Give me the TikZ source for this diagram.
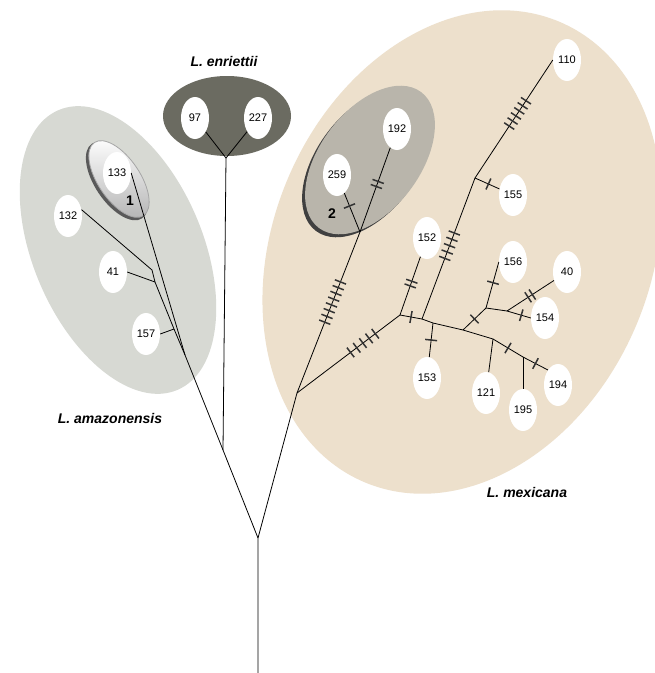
\documentclass[tikz,border=0pt]{standalone}
\usepackage{fontspec}
\setmainfont{Liberation Sans}
\usetikzlibrary{shapes.geometric,decorations.markings}
\definecolor{amazc}{HTML}{D7D9D3}
\definecolor{enric}{HTML}{6B6B61}
\definecolor{mexic}{HTML}{EDE0CC}
\definecolor{grpc}{HTML}{B9B5AB}
\definecolor{tickc}{HTML}{333333}
\begin{document}
\begin{tikzpicture}[x=1pt,y=-1pt,
  hap/.style={shape=ellipse, fill=white, minimum width=28pt, minimum height=42pt, inner sep=0pt, font=\fontsize{11}{13}\selectfont},
  edge/.style={draw=black, line width=0.8pt},
  tk/.style={draw=tickc, line width=1.5pt},
  ticks/.style n args={3}{postaction={decorate, decoration={markings, mark=between positions #1 and #3 step #2 with {\draw[tk] (0pt,-6pt) -- (0pt,6pt);}}}},
  tickone/.style={postaction={decorate, decoration={markings, mark=at position #1 with {\draw[tk] (0pt,-6pt) -- (0pt,6pt);}}}},
  species/.style={font=\fontsize{14}{16}\selectfont\bfseries\itshape},
  grplabel/.style={font=\fontsize{14}{16}\selectfont\bfseries},
]
\useasboundingbox (0,0) rectangle (655,673);
\fill[white] (0,0) rectangle (655,673);
\begin{scope}
\clip (0,0) rectangle (655,673);
% species backgrounds
\fill[mexic, rotate around={-23:(462,252)}] (462,252) ellipse [x radius=189pt, y radius=250pt];
\fill[amazc, rotate around={23:(118,250)}] (118,250) ellipse [x radius=85pt, y radius=152pt];
\fill[enric] (227,116) ellipse [x radius=64pt, y radius=40pt];
% group 2
\fill[black!75, rotate around={-37:(367,163)}] (367,163) ellipse [x radius=50pt, y radius=85pt];
\fill[grpc, rotate around={-37:(370,160)}] (370,160) ellipse [x radius=50pt, y radius=85pt];
% group 1
\fill[black!65, rotate around={34:(117,181)}] (117,181) ellipse [x radius=22pt, y radius=45pt];
\shade[top color=white, bottom color=gray!60, rotate around={34:(119,179)}] (119,179) ellipse [x radius=21pt, y radius=44pt];
\draw[gray!70, line width=0.8pt, rotate around={34:(119,179)}] (119,179) ellipse [x radius=21pt, y radius=44pt];
\end{scope}

% haplotype nodes
\node[hap] (n97) at (195,118) {97};
\node[hap] (n227) at (258,118) {227};
\node[hap] (n133) at (117,173) {133};
\node[hap] (n132) at (68,216) {132};
\node[hap] (n41) at (113,272) {41};
\node[hap] (n157) at (146,334) {157};
\node[hap] (n192) at (397,129) {192};
\node[hap] (n259) at (337,175) {259};
\node[hap] (n110) at (567,60) {110};
\node[hap] (n155) at (513,195) {155};
\node[hap] (n152) at (427,238) {152};
\node[hap] (n156) at (513,262) {156};
\node[hap] (n40) at (567,272) {40};
\node[hap] (n154) at (545,318) {154};
\node[hap] (n153) at (427,378) {153};
\node[hap] (n121) at (486,393) {121};
\node[hap] (n195) at (523,410) {195};
\node[hap] (n194) at (558,385) {194};

% junctions
\coordinate (bot) at (258,673);
\coordinate (root) at (258,538);
\coordinate (al) at (223,450);
\coordinate (ar) at (297,393);
\coordinate (ej) at (226,158);
\coordinate (m) at (185,355);
\coordinate (j1) at (152,270);
\coordinate (j2) at (155,282);
\coordinate (j3) at (174,329);
\coordinate (e2) at (360,232);
\coordinate (jb) at (400,315);
\coordinate (jc) at (422,319);
\coordinate (jd) at (475,178);
\coordinate (jf) at (433,323);
\coordinate (jg) at (463,330);
\coordinate (jh) at (493,339);
\coordinate (jk) at (523,357);
\coordinate (jl) at (486,308);
\coordinate (jn) at (507,311);

% trunk and enriettii
\draw[edge] (bot) -- (root) -- (al) -- (ej);
\draw[edge] (root) -- (ar);
\draw[edge] (ej) -- (n97);
\draw[edge] (ej) -- (n227);
% amazonensis
\draw[edge] (al) -- (m) -- (n133.east);
\draw[edge] (m) -- (j3) -- (j2) -- (j1) -- (n132.25);
\draw[edge] (j2) -- (n41.east);
\draw[edge] (j3) -- (n157.east);
% mexicana
\draw[edge, ticks={0.44}{0.0357}{0.695}] (ar) -- (e2);
\draw[edge, ticks={0.52}{0.06}{0.765}] (ar) -- (jb);
\draw[edge, tickone=0.67] (e2) -- (n259);
\draw[edge, ticks={0.54}{0.06}{0.61}] (e2) -- (n192);
\draw[edge, ticks={0.5}{0.08}{0.59}] (jb) -- (n152);
\draw[edge, tickone=0.5] (jb) -- (jc);
\draw[edge, ticks={0.43}{0.045}{0.615}] (jc) -- (jd);
\draw[edge, ticks={0.44}{0.043}{0.66}] (jd) -- (n110.west);
\draw[edge, tickone=0.55] (jd) -- (n155);
\draw[edge] (jc) -- (jf) -- (jg) -- (jh);
\draw[edge, tickone=0.5] (jh) -- (jk);
\draw[edge, tickone=0.5] (jk) -- (n194.north west);
\draw[edge, tickone=0.5] (jf) -- (n153);
\draw[edge, tickone=0.5] (jg) -- (jl);
\draw[edge, tickone=0.55] (jl) -- (n156.west);
\draw[edge] (jl) -- (jn);
\draw[edge, tickone=0.6] (jn) -- (n154.west);
\draw[edge, ticks={0.45}{0.09}{0.55}] (jn) -- (n40);
\draw[edge] (jh) -- (n121);
\draw[edge] (jk) -- (n195);

% labels
\node[species] (lenr) at (224,61) {L. enriettii};
\node[species] (lama) at (110,418) {L. amazonensis};
\node[species] (lmex) at (527,492) {L. mexicana};
\node[grplabel] (g1) at (130,201) {1};
\node[grplabel] (g2) at (332,214) {2};
\end{tikzpicture}
\end{document}
